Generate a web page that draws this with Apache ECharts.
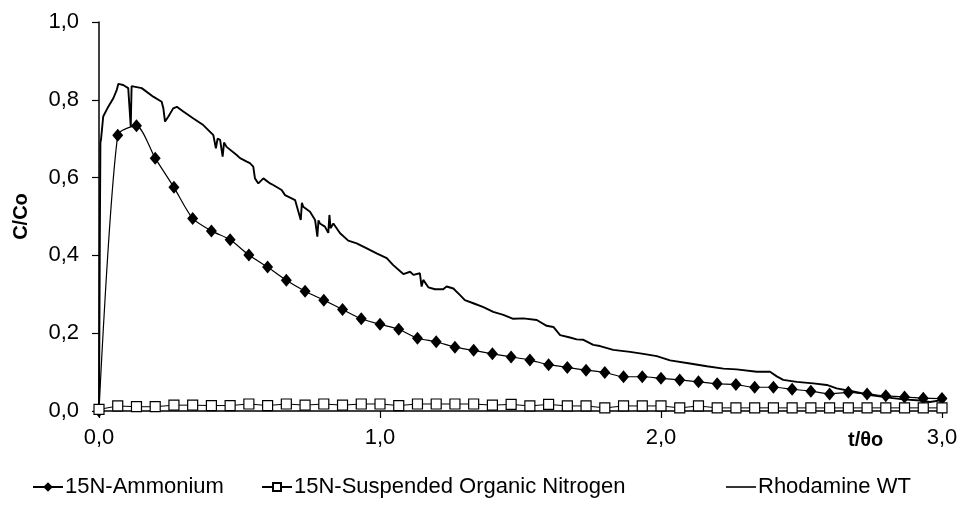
<!DOCTYPE html>
<html>
<head>
<meta charset="utf-8">
<script src="https://cdn.jsdelivr.net/npm/echarts@6/dist/echarts.min.js"></script>
<style>
html,body{margin:0;padding:0;background:#fff;}
#chart{width:962px;height:506px;}
</style>
</head>
<body>
<div id="chart"></div>
<script>
// sampling times (t/θo) for the 15N series: k/15, k = 0..45
const sampleX = Array.from({length: 46}, (_, k) => k / 15);

const ammoniumY = [0, 0.709, 0.733, 0.650, 0.575, 0.495, 0.463, 0.440, 0.401, 0.370,
  0.336, 0.308, 0.285, 0.261, 0.237, 0.223, 0.210, 0.187, 0.178, 0.164,
  0.156, 0.147, 0.139, 0.131, 0.119, 0.112, 0.105, 0.099, 0.088, 0.088,
  0.084, 0.080, 0.075, 0.070, 0.068, 0.061, 0.061, 0.056, 0.051, 0.044,
  0.048, 0.044, 0.039, 0.036, 0.033, 0.032];

const sonY = [0.004, 0.013, 0.011, 0.011, 0.015, 0.015, 0.014, 0.014, 0.018, 0.014,
  0.018, 0.015, 0.018, 0.015, 0.018, 0.018, 0.014, 0.018, 0.018, 0.018,
  0.018, 0.015, 0.017, 0.013, 0.017, 0.013, 0.013, 0.008, 0.013, 0.013,
  0.013, 0.008, 0.013, 0.008, 0.008, 0.008, 0.008, 0.008, 0.008, 0.008,
  0.008, 0.008, 0.008, 0.008, 0.008, 0.008];

const rhodX = [0, 0.003, 0.005, 0.007, 0.015, 0.027, 0.033, 0.051, 0.063, 0.069,
  0.086, 0.104, 0.110, 0.113, 0.116, 0.122, 0.152, 0.193, 0.223, 0.229,
  0.235, 0.247, 0.264, 0.277, 0.300, 0.336, 0.371, 0.407, 0.416, 0.422,
  0.431, 0.440, 0.445, 0.454, 0.490, 0.502, 0.526, 0.537, 0.549, 0.555,
  0.567, 0.585, 0.609, 0.620, 0.650, 0.662, 0.698, 0.718, 0.722, 0.727,
  0.751, 0.769, 0.777, 0.781, 0.786, 0.804, 0.816, 0.820, 0.824, 0.834,
  0.858, 0.887, 0.917, 0.953, 0.988, 1.024, 1.047, 1.083, 1.107, 1.119,
  1.142, 1.148, 1.154, 1.172, 1.196, 1.225, 1.237, 1.261, 1.285, 1.302,
  1.332, 1.368, 1.403, 1.439, 1.474, 1.510, 1.558, 1.593, 1.617, 1.641,
  1.676, 1.700, 1.724, 1.759, 1.783, 1.830, 1.890, 1.937, 1.985, 2.032,
  2.103, 2.163, 2.222, 2.269, 2.341, 2.388, 2.412, 2.435, 2.483, 2.542,
  2.590, 2.625, 2.684, 2.744, 2.803, 2.862, 2.922, 2.957, 3.000];

const rhodY = [0, 0.45, 0.69, 0.697, 0.757, 0.774, 0.782, 0.804, 0.825, 0.841,
  0.838, 0.830, 0.834, 0.731, 0.835, 0.838, 0.830, 0.808, 0.795, 0.778,
  0.744, 0.757, 0.778, 0.782, 0.770, 0.752, 0.735, 0.709, 0.675, 0.700,
  0.697, 0.654, 0.690, 0.679, 0.658, 0.650, 0.641, 0.637, 0.628, 0.598,
  0.585, 0.598, 0.585, 0.581, 0.568, 0.555, 0.542, 0.491, 0.535, 0.525,
  0.512, 0.491, 0.448, 0.490, 0.482, 0.474, 0.458, 0.504, 0.470, 0.482,
  0.457, 0.438, 0.431, 0.418, 0.405, 0.393, 0.375, 0.352, 0.358, 0.350,
  0.354, 0.320, 0.337, 0.318, 0.313, 0.313, 0.320, 0.315, 0.298, 0.285,
  0.277, 0.267, 0.255, 0.247, 0.237, 0.238, 0.234, 0.219, 0.216, 0.195,
  0.189, 0.184, 0.183, 0.170, 0.167, 0.157, 0.152, 0.147, 0.141, 0.130,
  0.122, 0.115, 0.109, 0.107, 0.101, 0.101, 0.089, 0.080, 0.075, 0.071,
  0.067, 0.058, 0.050, 0.041, 0.035, 0.030, 0.027, 0.023, 0.028];

const xTicks = [0, 1, 2, 3];
const yTicks = [0, 0.2, 0.4, 0.6, 0.8, 1.0];

const zip = (xs, ys) => xs.map((x, i) => [x, ys[i]]);
const comma = v => v.toFixed(1).replace('.', ',');
const FONT = 'Liberation Sans, Arial, sans-serif';
const LEG_TEXT = {fontFamily: FONT, fontSize: 22, color: '#000', padding: [0, 0, 0, -3]};

const chart = echarts.init(document.getElementById('chart'));
chart.setOption({
  animation: false,
  backgroundColor: '#fff',
  title: {
    text: 't/\u03B8o', left: 843, top: 425,
    textStyle: {fontFamily: FONT, fontSize: 20, fontWeight: 'bold', color: '#000'}
  },
  grid: {left: 99, right: 20, top: 22, bottom: 95},
  legend: [
    {data: ['15N-Ammonium'], left: 27, top: 471, itemWidth: 30, itemHeight: 12,
     textStyle: LEG_TEXT},
    {data: ['15N-Suspended Organic Nitrogen'], left: 256, top: 471, itemWidth: 30, itemHeight: 10,
     textStyle: LEG_TEXT},
    {data: [{name: 'Rhodamine WT', icon: 'rect'}], left: 721, top: 471, itemWidth: 30, itemHeight: 1.6,
     textStyle: LEG_TEXT}
  ],
  xAxis: {
    type: 'value', min: 0, max: 3, interval: 1,
    axisLine: {onZero: false, lineStyle: {color: '#000', width: 1.5}},
    axisTick: {show: true, length: 7, lineStyle: {color: '#000', width: 1.2}},
    axisLabel: {formatter: comma, margin: 16, fontFamily: FONT, fontSize: 22, color: '#000',
      customValues: xTicks},
    splitLine: {show: false}
  },
  yAxis: {
    type: 'value', min: 0, max: 1, interval: 0.2,
    name: 'C/Co', nameLocation: 'middle', nameGap: 68, nameRotate: 90,
    nameTextStyle: {fontFamily: FONT, fontSize: 20, fontWeight: 'bold', color: '#000'},
    axisLine: {show: true, lineStyle: {color: '#000', width: 1.5}},
    axisTick: {show: true, length: 7, lineStyle: {color: '#000', width: 1.2}},
    axisLabel: {formatter: comma, margin: 20, fontFamily: FONT, fontSize: 22, color: '#000',
      customValues: yTicks},
    splitLine: {show: false}
  },
  series: [
    {
      name: 'Rhodamine WT', type: 'line', data: zip(rhodX, rhodY),
      symbol: 'none', lineStyle: {color: '#000', width: 1.9}, itemStyle: {color: '#000'}, z: 2
    },
    {
      name: '15N-Ammonium', type: 'line', data: zip(sampleX, ammoniumY),
      symbol: 'diamond', symbolSize: [11, 13], smooth: 0.25,
      lineStyle: {color: '#000', width: 1.2}, itemStyle: {color: '#000'}, z: 3
    },
    {
      name: '15N-Suspended Organic Nitrogen', type: 'line', data: zip(sampleX, sonY),
      symbol: 'rect', symbolSize: 10,
      lineStyle: {color: '#000', width: 1}, itemStyle: {color: '#fff', borderColor: '#000', borderWidth: 1.2}, z: 4
    }
  ]
});
</script>
</body>
</html>
